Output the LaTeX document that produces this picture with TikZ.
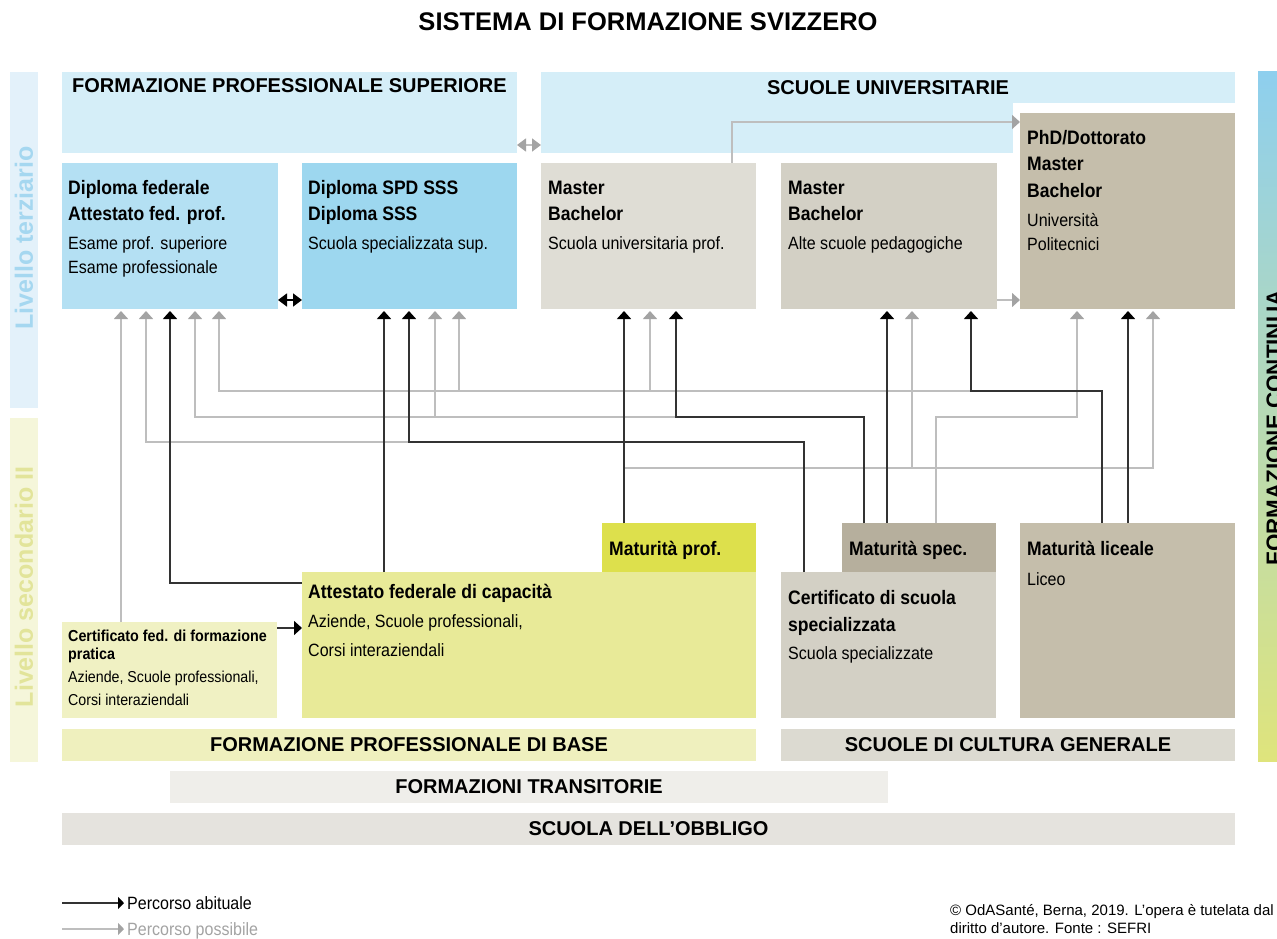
\documentclass[tikz,border=0pt]{standalone}
\usepackage{fontspec}
\setmainfont{Liberation Sans}
\newfontfamily\narrowfont[FakeStretch=0.9]{Liberation Sans}
\usetikzlibrary{arrows.meta}

\definecolor{headblue}{HTML}{D5EEF8}
\definecolor{fedblue}{HTML}{B4E0F3}
\definecolor{sssblue}{HTML}{9DD7EF}
\definecolor{supgray}{HTML}{DFDDD5}
\definecolor{aspgray}{HTML}{D3D0C5}
\definecolor{unigray}{HTML}{C5BEAB}
\definecolor{mprofyel}{HTML}{DDE04C}
\definecolor{afcyel}{HTML}{E8EA98}
\definecolor{cfpyel}{HTML}{F0F1C3}
\definecolor{mspecgray}{HTML}{B6AF9D}
\definecolor{baseyel}{HTML}{EFF0BE}
\definecolor{cultgray}{HTML}{DCDAD1}
\definecolor{transgray}{HTML}{EFEEEA}
\definecolor{obblgray}{HTML}{E5E3DE}
\definecolor{terzbar}{HTML}{E3F1FA}
\definecolor{terztext}{HTML}{A5D7F0}
\definecolor{secbar}{HTML}{F5F6DA}
\definecolor{sectext}{HTML}{E2E49A}
\definecolor{contop}{HTML}{8ECFEE}
\definecolor{conmid}{HTML}{C3E2CB}
\definecolor{conbot}{HTML}{DFE47C}
\definecolor{possline}{HTML}{BEBEBE}
\definecolor{posshead}{HTML}{A3A3A3}

\tikzset{
  block/.style={rectangle, draw=none, inner sep=0pt, outer sep=0pt, anchor=north west},
  bar/.style={block, anchor=center, font=\bfseries\fontsize{20}{24}\selectfont},
  head/.style={inner sep=0pt, font=\bfseries\fontsize{20}{24}\selectfont},
  level/.style={inner sep=0pt, rotate=90, font=\bfseries\fontsize{25}{30}\selectfont},
  boxtitle/.style={anchor=base west, inner sep=0pt, font=\narrowfont\bfseries\fontsize{19.5}{23}\selectfont},
  boxtext/.style={anchor=base west, inner sep=0pt, font=\narrowfont\fontsize{17.8}{21}\selectfont},
  smalltitle/.style={anchor=base west, inner sep=0pt, font=\narrowfont\bfseries\fontsize{15.9}{19}\selectfont},
  smalltext/.style={anchor=base west, inner sep=0pt, font=\narrowfont\fontsize{15.8}{19}\selectfont},
  copynote/.style={anchor=base west, inner sep=0pt, font=\fontsize{15}{18}\selectfont},
  usual/.style={draw=black!80, line width=1.5pt, -{Triangle[width=14pt,length=8pt,color=black]}, shorten >=2pt},
  possible/.style={draw=possline, line width=1.5pt, -{Triangle[width=14pt,length=8pt,color=posshead]}, shorten >=2pt},
}

\begin{document}
\begin{tikzpicture}[x=1pt, y=-1pt]
  \useasboundingbox (0,0) rectangle (1277,939);

  \node[font=\bfseries\fontsize{25.5}{30}\selectfont] (title) at (648,22) {SISTEMA DI FORMAZIONE SVIZZERO};

  %% livelli
  \node[block, fill=terzbar, minimum width=28pt, minimum height=336pt] (lvt) at (10,72) {};
  \node[block, fill=secbar, minimum width=28pt, minimum height=344pt] (lvs) at (10,418) {};
  \node[level, text=terztext] (lvtt) at (lvt.center |- 0,238) {Livello terziario};
  \node[level, text=sectext] (lvst) at (lvs.center |- 0,587) {Livello secondario II};

  %% formazione continua
  \node[block, top color=contop, middle color=conmid, bottom color=conbot, minimum width=40pt, minimum height=689pt] (fc) at (1258,72) {};
  \node[head, font=\bfseries\fontsize{22.4}{26}\selectfont, rotate=90, anchor=base] (fct) at (1282,428) {FORMAZIONE CONTINUA};

  %% livello terziario
  \node[block, fill=headblue, minimum width=455pt, minimum height=81pt] (fps) at (62,72) {};
  \node[head, anchor=base west] (fpst) at (72,93) {FORMAZIONE PROFESSIONALE SUPERIORE};
  \node[block, bar, fill=headblue, minimum width=694pt, minimum height=31pt] (su) at (888,87.5) {SCUOLE UNIVERSITARIE};
  \fill[headblue] (su.south west) rectangle (1013,153);

  \node[block, fill=fedblue, minimum width=216pt, minimum height=146pt] (dipfed) at (62,163) {};
  \node[block, fill=sssblue, minimum width=215pt, minimum height=146pt] (spd) at (302,163) {};
  \node[block, fill=supgray, minimum width=215pt, minimum height=146pt] (sup) at (541,163) {};
  \node[block, fill=aspgray, minimum width=216pt, minimum height=146pt] (asp) at (781,163) {};
  \node[block, fill=unigray, minimum width=215pt, minimum height=196pt] (phd) at (1020,113) {};

  \node[boxtitle] (dipfed-a) at (68,194) {Diploma federale};
  \node[boxtitle] (dipfed-b) at (68,220) {Attestato fed. prof.};
  \node[boxtext] (dipfed-c) at (68,249) {Esame prof. superiore};
  \node[boxtext] (dipfed-d) at (68,273) {Esame professionale};
  \node[boxtitle] (spd-a) at (308,194) {Diploma SPD SSS};
  \node[boxtitle] (spd-b) at (308,220) {Diploma SSS};
  \node[boxtext] (spd-c) at (308,249) {Scuola specializzata sup.};
  \node[boxtitle] (sup-a) at (548,194) {Master};
  \node[boxtitle] (sup-b) at (548,220) {Bachelor};
  \node[boxtext] (sup-c) at (548,249) {Scuola universitaria prof.};
  \node[boxtitle] (asp-a) at (788,194) {Master};
  \node[boxtitle] (asp-b) at (788,220) {Bachelor};
  \node[boxtext] (asp-c) at (788,249) {Alte scuole pedagogiche};
  \node[boxtitle] (phd-a) at (1027,145) {PhD/Dottorato};
  \node[boxtitle] (phd-b) at (1027,171) {Master};
  \node[boxtitle] (phd-c) at (1027,197) {Bachelor};
  \node[boxtext] (phd-d) at (1027,226) {Università};
  \node[boxtext] (phd-e) at (1027,250) {Politecnici};

  %% livello secondario II
  \node[block, fill=mprofyel, minimum width=154pt, minimum height=49pt] (mprof) at (602,523) {};
  \node[block, fill=afcyel, minimum width=454pt, minimum height=146pt] (afc) at (302,572) {};
  \node[block, fill=cfpyel, minimum width=215pt, minimum height=96pt] (certfp) at (62,622) {};
  \node[block, fill=mspecgray, minimum width=154pt, minimum height=49pt] (mspec) at (842,523) {};
  \node[block, fill=aspgray, minimum width=215pt, minimum height=146pt] (certss) at (781,572) {};
  \node[block, fill=unigray, minimum width=215pt, minimum height=195pt] (mlic) at (1020,523) {};

  \node[boxtitle] (mprof-a) at (609,555) {Maturità prof.};
  \node[boxtitle] (afc-a) at (308,598) {Attestato federale di capacità};
  \node[boxtext] (afc-b) at (308,627) {Aziende, Scuole professionali,};
  \node[boxtext] (afc-c) at (308,656) {Corsi interaziendali};
  \node[smalltitle] (certfp-a) at (68,641) {Certificato fed. di formazione};
  \node[smalltitle] (certfp-b) at (68,659) {pratica};
  \node[smalltext] (certfp-c) at (68,682) {Aziende, Scuole professionali,};
  \node[smalltext] (certfp-d) at (68,705) {Corsi interaziendali};
  \node[boxtitle] (mspec-a) at (849,555) {Maturità spec.};
  \node[boxtitle] (certss-a) at (788,604) {Certificato di scuola};
  \node[boxtitle] (certss-b) at (788,631) {specializzata};
  \node[boxtext] (certss-c) at (788,659) {Scuola specializzate};
  \node[boxtitle] (mlic-a) at (1027,555) {Maturità liceale};
  \node[boxtext] (mlic-b) at (1027,585) {Liceo};

  %% basi
  \node[bar, fill=baseyel, minimum width=694pt, minimum height=32pt] (fpb) at (409,745) {FORMAZIONE PROFESSIONALE DI BASE};
  \node[bar, fill=cultgray, minimum width=454pt, minimum height=32pt] (scg) at (1008,745) {SCUOLE DI CULTURA GENERALE};
  \node[bar, fill=transgray, minimum width=718pt, minimum height=32pt] (ft) at (529,787) {FORMAZIONI TRANSITORIE};
  \node[bar, fill=obblgray, minimum width=1173pt, minimum height=32pt] (sdo) at (648.5,829) {SCUOLA DELL’OBBLIGO};

  %% percorsi possibili
  \draw[possible] (certfp.north -| 121,0) -- (dipfed.south -| 121,0);
  \draw[possible] (certss.north -| 804,0) |- (146,442) -- (dipfed.south -| 146,0);
  \draw[possible] (mspec.north -| 864,0) |- (195,417) -- (dipfed.south -| 195,0);
  \draw[possible] (mspec.north -| 864,0) |- (435,417) -- (spd.south -| 435,0);
  \draw[possible] (mlic.north -| 1102,0) |- (219,391) -- (dipfed.south -| 219,0);
  \draw[possible] (mlic.north -| 1102,0) |- (459,391) -- (spd.south -| 459,0);
  \draw[possible] (mlic.north -| 1102,0) |- (650,391) -- (sup.south -| 650,0);
  \draw[possible] (mspec.north -| 936,0) |- (1077,417) -- (phd.south -| 1077,0);
  \draw[possible] (mprof.north -| 624,0) |- (1153,468) -- (phd.south -| 1153,0);
  \draw[possible] (mprof.north -| 624,0) |- (912,468) -- (asp.south -| 912,0);
  \draw[possible, shorten >=0pt] (sup.north -| 732,0) |- (phd.west |- 0,122);
  \draw[possible, shorten >=0pt] (asp.east |- 0,300) -- (phd.west |- 0,300);
  \draw[draw=possline, line width=1.5pt, {Triangle[width=13pt,length=9pt,color=posshead]}-{Triangle[width=13pt,length=9pt,color=posshead]}] (fps.east |- 0,145) -- (su.west |- 0,145);

  %% percorsi abituali
  \draw[usual, shorten >=0pt] (certfp.east |- 0,628) -- (afc.west |- 0,628);
  \draw[usual] (afc.west |- 0,583) -| (dipfed.south -| 170,0);
  \draw[usual] (afc.north -| 384,0) -- (spd.south -| 384,0);
  \draw[usual] (certss.north -| 804,0) |- (409,442) -- (spd.south -| 409,0);
  \draw[usual] (mprof.north -| 624,0) -- (sup.south -| 624,0);
  \draw[usual] (mspec.north -| 864,0) |- (676,417) -- (sup.south -| 676,0);
  \draw[usual] (mspec.north -| 887,0) -- (asp.south -| 887,0);
  \draw[usual] (mlic.north -| 1102,0) |- (971,391) -- (asp.south -| 971,0);
  \draw[usual] (mlic.north -| 1128,0) -- (phd.south -| 1128,0);
  \draw[draw=black, line width=1.5pt, {Triangle[width=13pt,length=9pt,color=black]}-{Triangle[width=13pt,length=9pt,color=black]}] (dipfed.east |- 0,300) -- (spd.west |- 0,300);

  %% legenda
  \node[boxtext] (lgu) at (127,909) {Percorso abituale};
  \node[boxtext, text=posshead] (lgp) at (127,935) {Percorso possibile};
  \coordinate (lgus) at (62,903);
  \coordinate (lgps) at (62,929);
  \draw[usual, -{Triangle[width=12pt,length=6pt,color=black]}, shorten >=3pt] (lgus) -- (lgus -| lgu.west);
  \draw[possible, -{Triangle[width=12pt,length=6pt,color=posshead]}, shorten >=3pt] (lgps) -- (lgps -| lgp.west);

  \node[copynote] (cr1) at (950,915) {© OdASanté, Berna, 2019. L’opera è tutelata dal};
  \node[copynote] (cr2) at (950,933) {diritto d’autore. Fonte : SEFRI};

\end{tikzpicture}
\end{document}
